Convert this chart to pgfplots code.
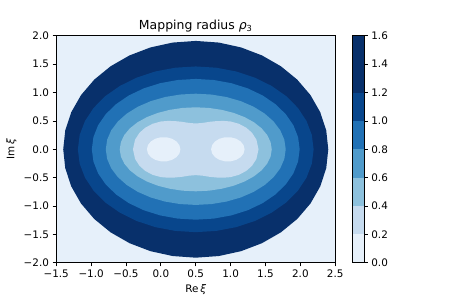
\documentclass[border=0pt]{standalone}
\usepackage{fontspec}
\setmainfont{DejaVu Sans}
\usepackage{pgfplots}
\pgfplotsset{compat=1.18}
\definecolor{c0}{RGB}{230,240,250}
\definecolor{c1}{RGB}{198,219,239}
\definecolor{c2}{RGB}{141,193,221}
\definecolor{c3}{RGB}{80,155,203}
\definecolor{c4}{RGB}{33,113,181}
\definecolor{c5}{RGB}{8,70,140}
\definecolor{c6}{RGB}{8,48,107}
\pgfplotsset{
  every axis title/.style={at={(0.5,1)}, anchor=base, yshift=6bp, font=\fontsize{12}{14}\selectfont},
  mpl/.style={
    scale only axis,
    anchor=south west,
    axis on top,
    tick align=outside,
    major tick length=3.5bp,
    tick style={black, line width=0.8bp},
    axis line style={black, line width=0.8bp},
    tick label style={font=\fontsize{10}{12}\selectfont},
    label style={font=\fontsize{10}{12}\selectfont},
  }
}
\begin{document}
\begin{tikzpicture}
\useasboundingbox (0,0) rectangle (432bp,288bp);
\begin{axis}[mpl,
  at={(54bp,35.71bp)},
  width=267.84bp, height=217.92bp,
  xmin=-1.5, xmax=2.5, ymin=-2, ymax=2,
  axis background/.style={fill=c0},
  tick pos=left,
  xtick={-1.5,-1,-0.5,0,0.5,1,1.5,2,2.5},
  xticklabels={−1.5,−1.0,−0.5,0.0,0.5,1.0,1.5,2.0,2.5},
  ytick={-2,-1.5,-1,-0.5,0,0.5,1,1.5,2},
  yticklabels={−2.0,−1.5,−1.0,−0.5,0.0,0.5,1.0,1.5,2.0},
  title={Mapping radius {\itshape ρ}\textsubscript{3}},
  xlabel={Re\,{\itshape ξ}},
  ylabel={Im\,{\itshape ξ}},
]
% outer (masked domain) band 1.2-1.6
\addplot[fill=c6, draw=none] coordinates {
(2.4,0) (2.371,0.332) (2.285,0.653) (2.145,0.955) (1.955,1.228) (1.721,1.463) (1.45,1.654) (1.150,1.795) (0.830,1.881) (0.5,1.91) (0.170,1.881) (-0.150,1.795) (-0.45,1.654) (-0.721,1.463) (-0.955,1.228) (-1.145,0.955) (-1.285,0.653) (-1.371,0.332) (-1.4,0) (-1.371,-0.332) (-1.285,-0.653) (-1.145,-0.955) (-0.955,-1.228) (-0.721,-1.463) (-0.45,-1.654) (-0.150,-1.795) (0.170,-1.881) (0.5,-1.91) (0.830,-1.881) (1.150,-1.795) (1.45,-1.654) (1.721,-1.463) (1.955,-1.228) (2.145,-0.955) (2.285,-0.653) (2.371,-0.332)
} -- cycle;
% 1.0-1.2
\addplot[fill=c5, draw=none] coordinates {
(2.19,0) (2.164,0.254) (2.088,0.499) (1.964,0.73) (1.795,0.939) (1.586,1.118) (1.345,1.264) (1.078,1.372) (0.793,1.438) (0.5,1.46) (0.207,1.438) (-0.078,1.372) (-0.345,1.264) (-0.586,1.118) (-0.795,0.939) (-0.964,0.73) (-1.088,0.499) (-1.164,0.254) (-1.19,0) (-1.164,-0.254) (-1.088,-0.499) (-0.964,-0.73) (-0.795,-0.939) (-0.586,-1.118) (-0.345,-1.264) (-0.078,-1.372) (0.207,-1.438) (0.5,-1.46) (0.793,-1.438) (1.078,-1.372) (1.345,-1.264) (1.586,-1.118) (1.795,-0.939) (1.964,-0.73) (2.088,-0.499) (2.164,-0.254)
} -- cycle;
% 0.8-1.0
\addplot[fill=c4, draw=none] coordinates {
(1.99,0) (1.967,0.215) (1.900,0.424) (1.790,0.62) (1.641,0.797) (1.458,0.950) (1.245,1.074) (1.010,1.165) (0.759,1.221) (0.5,1.24) (0.241,1.221) (-0.010,1.165) (-0.245,1.074) (-0.458,0.950) (-0.641,0.797) (-0.790,0.62) (-0.900,0.424) (-0.967,0.215) (-0.99,0) (-0.967,-0.215) (-0.900,-0.424) (-0.790,-0.62) (-0.641,-0.797) (-0.458,-0.950) (-0.245,-1.074) (-0.010,-1.165) (0.241,-1.221) (0.5,-1.24) (0.759,-1.221) (1.010,-1.165) (1.245,-1.074) (1.458,-0.950) (1.641,-0.797) (1.790,-0.62) (1.900,-0.424) (1.967,-0.215)
} -- cycle;
% 0.6-0.8
\addplot[fill=c3, draw=none] coordinates {
(1.79,0) (1.770,0.170) (1.712,0.335) (1.617,0.49) (1.488,0.630) (1.329,0.751) (1.145,0.849) (0.941,0.921) (0.724,0.965) (0.5,0.98) (0.276,0.965) (0.059,0.921) (-0.145,0.849) (-0.329,0.751) (-0.488,0.630) (-0.617,0.49) (-0.712,0.335) (-0.770,0.170) (-0.79,0) (-0.770,-0.170) (-0.712,-0.335) (-0.617,-0.49) (-0.488,-0.630) (-0.329,-0.751) (-0.145,-0.849) (0.059,-0.921) (0.276,-0.965) (0.5,-0.98) (0.724,-0.965) (0.941,-0.921) (1.145,-0.849) (1.329,-0.751) (1.488,-0.630) (1.617,-0.49) (1.712,-0.335) (1.770,-0.170)
} -- cycle;
% 0.4-0.6
\addplot[fill=c2, draw=none] coordinates {
(1.59,0) (1.573,0.128) (1.524,0.253) (1.444,0.37) (1.335,0.476) (1.201,0.567) (1.045,0.641) (0.873,0.695) (0.689,0.729) (0.5,0.74) (0.311,0.729) (0.127,0.695) (-0.045,0.641) (-0.201,0.567) (-0.335,0.476) (-0.444,0.37) (-0.524,0.253) (-0.573,0.128) (-0.59,0) (-0.573,-0.128) (-0.524,-0.253) (-0.444,-0.37) (-0.335,-0.476) (-0.201,-0.567) (-0.045,-0.641) (0.127,-0.695) (0.311,-0.729) (0.5,-0.74) (0.689,-0.729) (0.873,-0.695) (1.045,-0.641) (1.201,-0.567) (1.335,-0.476) (1.444,-0.37) (1.524,-0.253) (1.573,-0.128)
} -- cycle;
% 0.2-0.4 (peanut)
\addplot[fill=c1, draw=none] coordinates {
(1.40,0) (1.370,0.17) (1.307,0.29) (1.225,0.38) (1.118,0.45) (1.0,0.49) (0.9,0.50) (0.8,0.497) (0.7,0.485) (0.6,0.465) (0.5,0.455) (0.4,0.465) (0.3,0.485) (0.2,0.497) (0.1,0.50) (0.0,0.49) (-0.118,0.45) (-0.225,0.38) (-0.307,0.29) (-0.370,0.17) (-0.40,0) (-0.370,-0.17) (-0.307,-0.29) (-0.225,-0.38) (-0.118,-0.45) (0.0,-0.49) (0.1,-0.50) (0.2,-0.497) (0.3,-0.485) (0.4,-0.465) (0.5,-0.455) (0.6,-0.465) (0.7,-0.485) (0.8,-0.497) (0.9,-0.50) (1.0,-0.49) (1.118,-0.45) (1.225,-0.38) (1.307,-0.29) (1.370,-0.17)
} -- cycle;
% 0-0.2 (two ovals)
\addplot[fill=c0, draw=none] coordinates {
(0.28,0) (0.2655,0.0735) (0.2238,0.1382) (0.16,0.1862) (0.0817,0.2117) (-0.0017,0.2117) (-0.08,0.1862) (-0.1438,0.1382) (-0.1855,0.0735) (-0.2,0) (-0.1855,-0.0735) (-0.1438,-0.1382) (-0.08,-0.1862) (-0.0017,-0.2117) (0.0817,-0.2117) (0.16,-0.1862) (0.2238,-0.1382) (0.2655,-0.0735)
} -- cycle;
\addplot[fill=c0, draw=none] coordinates {
(1.2,0) (1.1855,0.0735) (1.1438,0.1382) (1.08,0.1862) (1.0017,0.2117) (0.9183,0.2117) (0.84,0.1862) (0.7762,0.1382) (0.7345,0.0735) (0.72,0) (0.7345,-0.0735) (0.7762,-0.1382) (0.84,-0.1862) (0.9183,-0.2117) (1.0017,-0.2117) (1.08,-0.1862) (1.1438,-0.1382) (1.1855,-0.0735)
} -- cycle;
\end{axis}
\begin{axis}[mpl,
  at={(338.6bp,35.71bp)},
  width=10.9bp, height=217.92bp,
  xmin=0, xmax=1, ymin=0, ymax=1.6,
  xtick=\empty,
  ytick={0,0.2,0.4,0.6,0.8,1.0,1.2,1.4,1.6},
  yticklabels={0.0,0.2,0.4,0.6,0.8,1.0,1.2,1.4,1.6},
  ytick pos=right, yticklabel pos=right,
]
\addplot[fill=c0, draw=none] coordinates {(0,0) (1,0) (1,0.2) (0,0.2)} -- cycle;
\addplot[fill=c1, draw=none] coordinates {(0,0.2) (1,0.2) (1,0.4) (0,0.4)} -- cycle;
\addplot[fill=c2, draw=none] coordinates {(0,0.4) (1,0.4) (1,0.6) (0,0.6)} -- cycle;
\addplot[fill=c3, draw=none] coordinates {(0,0.6) (1,0.6) (1,0.8) (0,0.8)} -- cycle;
\addplot[fill=c4, draw=none] coordinates {(0,0.8) (1,0.8) (1,1.0) (0,1.0)} -- cycle;
\addplot[fill=c5, draw=none] coordinates {(0,1.0) (1,1.0) (1,1.2) (0,1.2)} -- cycle;
\addplot[fill=c6, draw=none] coordinates {(0,1.2) (1,1.2) (1,1.6) (0,1.6)} -- cycle;
\end{axis}
\end{tikzpicture}
\end{document}
